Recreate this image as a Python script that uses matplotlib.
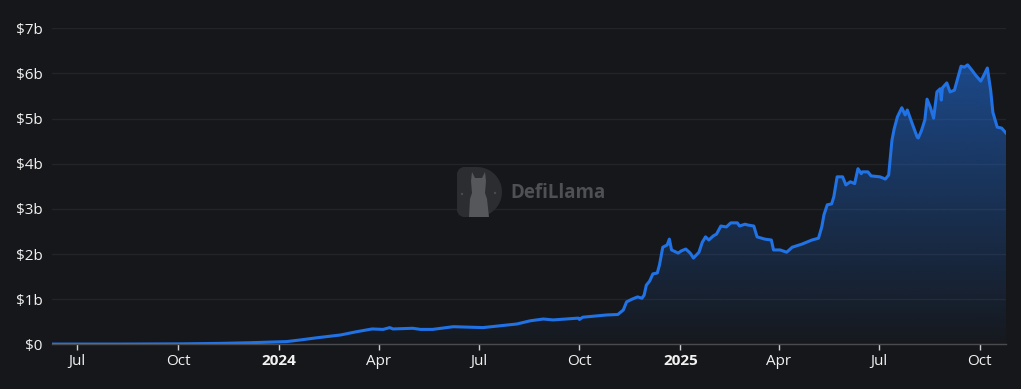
#------------------------------IMPORTS----------------------------------------
import numpy as np
import pandas as pd
import matplotlib
matplotlib.use('Agg')
import matplotlib.pyplot as plt
import matplotlib.dates as mdates
from matplotlib.patches import Polygon, Circle

#------------------------------DATA (TVL, billions USD)-----------------------
dates = [
    '2023-06-08', '2023-08-09', '2023-10-03', '2023-11-08', '2023-12-06',
    '2024-01-01', '2024-01-08', '2024-01-20', '2024-02-05', '2024-02-26',
    '2024-03-12', '2024-03-26', '2024-04-05', '2024-04-11', '2024-04-14',
    '2024-05-02', '2024-05-09', '2024-05-20', '2024-06-08', '2024-07-05',
    '2024-08-05', '2024-08-17', '2024-08-29', '2024-09-07', '2024-09-30',
    '2024-10-01', '2024-10-04', '2024-10-26', '2024-11-05', '2024-11-10',
    '2024-11-13', '2024-11-18', '2024-11-23', '2024-11-27', '2024-11-29',
    '2024-12-01', '2024-12-04', '2024-12-07', '2024-12-11', '2024-12-13',
    '2024-12-16', '2024-12-20', '2024-12-22', '2024-12-24', '2024-12-30',
    '2025-01-02', '2025-01-06', '2025-01-10', '2025-01-13', '2025-01-18',
    '2025-01-21', '2025-01-24', '2025-01-27', '2025-01-31', '2025-02-03',
    '2025-02-07', '2025-02-12', '2025-02-16', '2025-02-22', '2025-02-24',
    '2025-03-01', '2025-03-04', '2025-03-09', '2025-03-12', '2025-03-19',
    '2025-03-25', '2025-03-27', '2025-04-02', '2025-04-08', '2025-04-13',
    '2025-04-22', '2025-05-01', '2025-05-07', '2025-05-10', '2025-05-12',
    '2025-05-15', '2025-05-19', '2025-05-21', '2025-05-24', '2025-05-29',
    '2025-06-01', '2025-06-05', '2025-06-09', '2025-06-12', '2025-06-15',
    '2025-06-16', '2025-06-21', '2025-06-24', '2025-07-02', '2025-07-07',
    '2025-07-10', '2025-07-13', '2025-07-15', '2025-07-18', '2025-07-22',
    '2025-07-25', '2025-07-27', '2025-07-31', '2025-08-05', '2025-08-06',
    '2025-08-09', '2025-08-12', '2025-08-14', '2025-08-17', '2025-08-20',
    '2025-08-23', '2025-08-26', '2025-08-27', '2025-08-28', '2025-09-01',
    '2025-09-04', '2025-09-08', '2025-09-14', '2025-09-17', '2025-09-20',
    '2025-09-24', '2025-09-27', '2025-10-02', '2025-10-04', '2025-10-08',
    '2025-10-11', '2025-10-13', '2025-10-17', '2025-10-21', '2025-10-25',
]
tvl_b = [
    0.005, 0.005, 0.01, 0.02, 0.035,
    0.055, 0.06, 0.095, 0.146, 0.206,
    0.28, 0.34, 0.33, 0.37, 0.34,
    0.355, 0.33, 0.33, 0.39, 0.37,
    0.45, 0.52, 0.56, 0.54, 0.58,
    0.55, 0.60, 0.65, 0.66, 0.76,
    0.94, 1.00, 1.05, 1.02, 1.09,
    1.31, 1.40, 1.56, 1.58, 1.76,
    2.15, 2.20, 2.33, 2.09, 2.02,
    2.07, 2.11, 2.02, 1.91, 2.04,
    2.26, 2.38, 2.31, 2.40, 2.44,
    2.62, 2.60, 2.69, 2.69, 2.62,
    2.66, 2.64, 2.62, 2.38, 2.33,
    2.31, 2.09, 2.09, 2.04, 2.15,
    2.22, 2.31, 2.35, 2.60, 2.87,
    3.09, 3.11, 3.27, 3.71, 3.71,
    3.53, 3.60, 3.56, 3.89, 3.78,
    3.82, 3.82, 3.73, 3.71, 3.66,
    3.75, 4.52, 4.77, 5.04, 5.24,
    5.08, 5.19, 4.92, 4.59, 4.57,
    4.74, 4.97, 5.43, 5.25, 5.01,
    5.59, 5.66, 5.41, 5.68, 5.79,
    5.59, 5.63, 6.16, 6.14, 6.19,
    6.07, 5.97, 5.83, 5.92, 6.12,
    5.63, 5.14, 4.81, 4.79, 4.68,
]
y_ticks = [0, 1, 2, 3, 4, 5, 6, 7]
x_start, x_end = '2023-06-08', '2025-10-25'

#------------------------------STYLE-----------------------------------------
BG = '#16171a'
LINE = '#2172e5'
W, H = 1021, 389
plt.rcParams['font.family'] = ['Open Sans', 'DejaVu Sans']

x = mdates.date2num(pd.to_datetime(dates))
y = np.array(tvl_b)

fig = plt.figure(figsize=(W / 100, H / 100), dpi=100, facecolor=BG)
ax = fig.add_axes([52 / W, 44.7 / H, 954 / W, 316 / H])
ax.set_facecolor(BG)

# gradient fill under the line, clipped to the area
rgb = matplotlib.colors.to_rgb(LINE)
grad = np.zeros((256, 1, 4))
grad[:, 0, :3] = rgb
grad[:, 0, 3] = np.linspace(0.02, 0.55, 256)
im = ax.imshow(grad, extent=[x[0], x[-1], 0, y.max()], origin='lower',
               aspect='auto', zorder=2, interpolation='bilinear')
area = ax.fill_between(x, 0, y, color='none', lw=0)
im.set_clip_path(area.get_paths()[0], transform=ax.transData)

ax.plot(x, y, color=LINE, lw=2.2, solid_joinstyle='round', zorder=3)

ax.set_xlim(mdates.date2num(pd.Timestamp(x_start)), mdates.date2num(pd.Timestamp(x_end)))
ax.set_ylim(0, 7)

# y axis
ax.set_yticks(y_ticks)
ax.set_yticklabels(['$0' if v == 0 else f'${v}b' for v in y_ticks])
ax.tick_params(axis='y', length=0, pad=7, labelcolor='#f2f2f2', labelsize=11)
ax.yaxis.grid(True, color='#232428', lw=1)
ax.set_axisbelow(True)

# x axis: quarter starts, years in bold
qticks = pd.date_range('2023-07-01', '2025-10-01', freq='QS-JAN')
ax.set_xticks(mdates.date2num(qticks))
ax.set_xticklabels([str(d.year) if d.month == 1 else d.strftime('%b') for d in qticks])
for lab, d in zip(ax.get_xticklabels(), qticks):
    if d.month == 1:
        lab.set_fontweight('bold')
ax.tick_params(axis='x', length=4, width=1, color='#cfcfcf', pad=3,
               labelcolor='#f2f2f2', labelsize=11)

for s in ['top', 'right', 'left']:
    ax.spines[s].set_visible(False)
ax.spines['bottom'].set_color('#4a4b4f')
ax.spines['bottom'].set_linewidth(1)

#------------------------------WATERMARK-------------------------------------
lg = fig.add_axes([457 / W, 1 - 217 / H, 45 / W, 50 / H])
lg.set_xlim(0, 45)
lg.set_ylim(0, 50)
lg.axis('off')
ang = np.linspace(-np.pi / 2, np.pi / 2, 40)
d_shape = [(20 + 25 * np.cos(a), 25 + 25 * np.sin(a)) for a in ang]
d_shape += [(6, 50), (2, 48), (0, 44), (0, 6), (2, 2), (6, 0)]
lg.add_patch(Polygon(d_shape, closed=True, color='#2c2d31', lw=0))
llama = [(12, 0), (13, 18), (15, 24), (14, 36), (15, 45), (18, 39), (25, 39),
         (28, 45), (29, 36), (28, 24), (30, 18), (32, 0)]
lg.add_patch(Polygon(llama, closed=True, color='#56575a', lw=0))
for cx, cy in [(5, 23), (38, 24)]:
    lg.add_patch(Circle((cx, cy), 1.2, color='#4a4b4e', lw=0))
fig.text(510 / W, 1 - 193.5 / H, 'DefiLlama', color='#4f5054', fontsize=13.5,
         fontweight='bold', va='center', ha='left')

fig.savefig('out.png', dpi=100, facecolor=BG)
